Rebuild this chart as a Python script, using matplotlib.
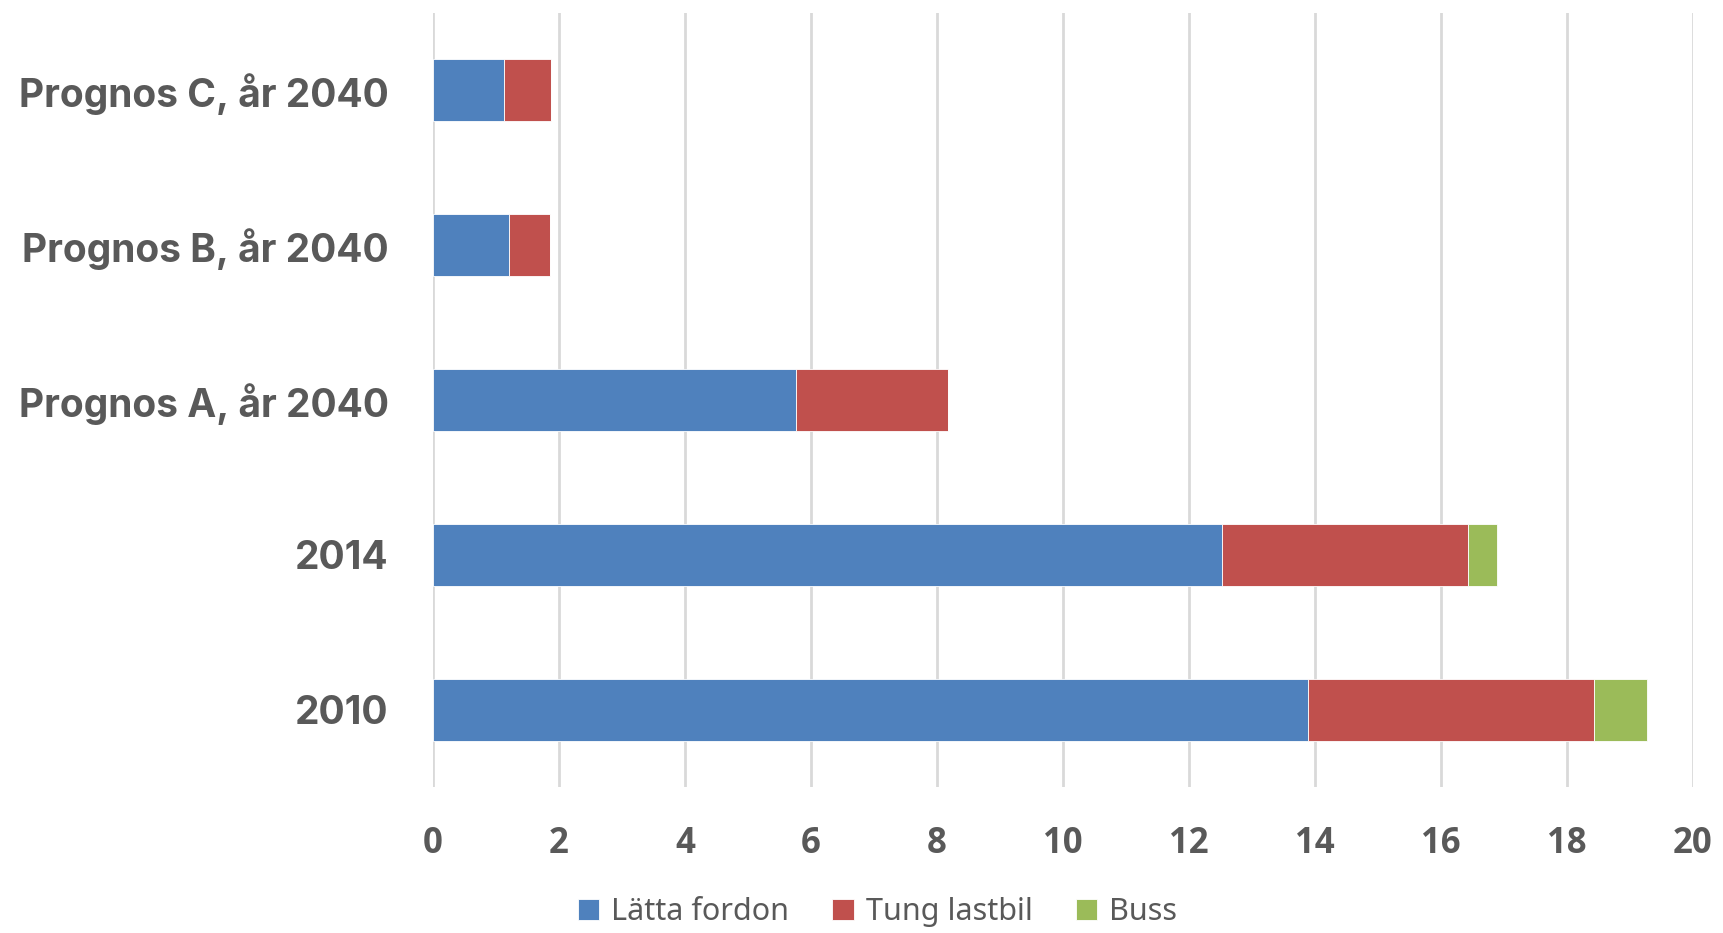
import matplotlib.pyplot as plt
import numpy as np

CATEGORIES = ["2010", "2014", "Prognos A, år 2040", "Prognos B, år 2040", "Prognos C, år 2040"]
LATTA_FORDON = [13.89, 12.52, 5.76, 1.20, 1.13]
TUNG_LASTBIL = [4.54, 3.91, 2.41, 0.66, 0.74]
BUSS = [0.84, 0.46, 0.0, 0.0, 0.0]

SERIES = [
    ("Lätta fordon", LATTA_FORDON, "#4F81BD"),
    ("Tung lastbil", TUNG_LASTBIL, "#C0504D"),
    ("Buss", BUSS, "#9BBB59"),
]
TEXT_COLOR = "#595959"

plt.rcParams["font.family"] = ["Open Sans", "DejaVu Sans"]

fig = plt.figure(figsize=(17.24, 9.33), dpi=100)
ax = fig.add_axes([0.2512, 0.156, 0.7308, 0.8306])

y = np.arange(len(CATEGORIES))
left = np.zeros(len(CATEGORIES))
for name, values, color in SERIES:
    vals = np.array(values)
    ax.barh(y, vals, left=left, height=0.4, color=color, label=name,
            edgecolor="white", linewidth=0.6, zorder=3)
    left += vals

ax.set_xlim(0, 20)
ax.set_ylim(-0.5, len(CATEGORIES) - 0.5)
ax.set_xticks(np.arange(0, 21, 2))
ax.set_yticks(y)
ax.set_yticklabels(CATEGORIES, fontdict={"family": ["Inter", "DejaVu Sans"],
                                         "weight": "bold", "size": 28})
ax.grid(axis="x", color="#D9D9D9", linewidth=2.0, zorder=0)
for spine in ax.spines.values():
    spine.set_visible(False)
ax.tick_params(axis="both", length=0, colors=TEXT_COLOR)
ax.tick_params(axis="x", pad=28, labelsize=25)
ax.tick_params(axis="y", pad=32)
for lbl in ax.get_xticklabels():
    lbl.set_fontweight("bold")
    lbl.set_color(TEXT_COLOR)

handles, labels = ax.get_legend_handles_labels()
leg = fig.legend(handles, labels, loc="center", bbox_to_anchor=(0.509, 0.022),
                 ncol=3, frameon=False, handlelength=0.7,
                 handleheight=0.7, handletextpad=0.4, columnspacing=1.4,
                 prop={"family": ["Noto Sans", "DejaVu Sans"], "size": 22})
for t in leg.get_texts():
    t.set_color(TEXT_COLOR)

fig.savefig("out.png", dpi=100)
